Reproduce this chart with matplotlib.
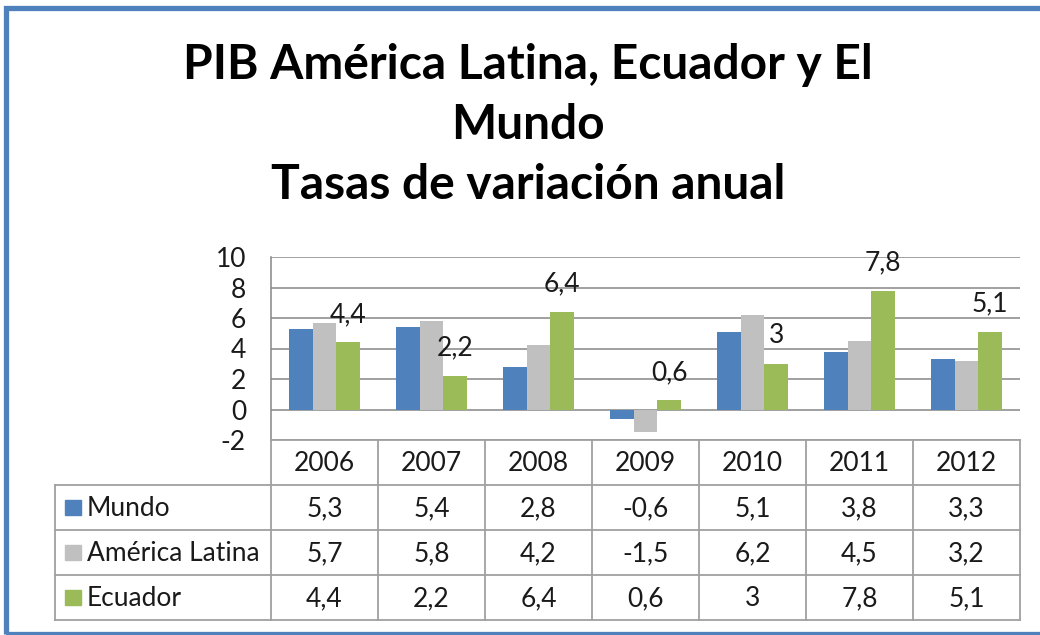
import matplotlib.pyplot as plt
import matplotlib.patches as mpatches
import numpy as np

plt.rcParams['font.family'] = ['Lato', 'DejaVu Sans']

years = ['2006', '2007', '2008', '2009', '2010', '2011', '2012']
series_names = ['Mundo', 'América Latina', 'Ecuador']
mundo = [5.3, 5.4, 2.8, -0.6, 5.1, 3.8, 3.3]
america_latina = [5.7, 5.8, 4.2, -1.5, 6.2, 4.5, 3.2]
ecuador = [4.4, 2.2, 6.4, 0.6, 3.0, 7.8, 5.1]
y_ticks = [-2, 0, 2, 4, 6, 8, 10]
title_lines = ['PIB América Latina, Ecuador y El', 'Mundo', 'Tasas de variación anual']

colors = ['#4F81BD', '#C0C0C0', '#9BBB59']
grid_col = '#868686'
table_col = '#A0A0A0'
txt_col = '#1a1a1a'
fs = 19

W, H = 1040, 635
fig = plt.figure(figsize=(W / 100, H / 100), dpi=100)


def fx(px):
    return px / W


def fy(py):
    return 1 - py / H


# main plot area
ax = fig.add_axes([fx(271), fy(440), fx(1020) - fx(271), fy(257) - fy(440)])
x = np.arange(len(years))
bw = 1 / 4.5
data = [mundo, america_latina, ecuador]
for i, vals in enumerate(data):
    ax.bar(x + (i - 1) * bw, vals, width=bw, color=colors[i], zorder=3)

# data labels for Ecuador only
for xi, v in zip(x, ecuador):
    lab = ('%g' % v).replace('.', ',')
    ax.annotate(lab, (xi + bw, v), xytext=(0, 11), textcoords='offset points',
                ha='center', va='bottom', fontsize=fs, color=txt_col)

ax.set_xlim(-0.5, len(years) - 0.5)
ax.set_ylim(-2, 10)
ax.set_yticks(y_ticks)
ax.set_yticklabels([str(t) for t in y_ticks], fontsize=fs, color=txt_col)
ax.tick_params(axis='y', length=0, pad=18)
ax.set_xticks([])
for t in y_ticks:
    ax.axhline(t, color=grid_col, lw=1.1, zorder=1)
for s in ['top', 'right', 'bottom']:
    ax.spines[s].set_visible(False)
ax.spines['left'].set_color(grid_col)
ax.spines['left'].set_linewidth(1.1)
ax.patch.set_alpha(0)

# data table
tax = fig.add_axes([fx(55), fy(620), fx(1020) - fx(55), fy(440) - fy(620)])
left_w = (271 - 55) / 107.0
tax.set_xlim(-0.5 - left_w, len(years) - 0.5)
tax.set_ylim(4, 0)
tax.axis('off')
lw = 1.3
x0 = -0.5 - left_w
x1 = len(years) - 0.5
# horizontal lines
tax.plot([-0.5, x1], [0, 0], color=table_col, lw=lw, clip_on=False)
for r in [1, 2, 3, 4]:
    tax.plot([x0, x1], [r, r], color=table_col, lw=lw, clip_on=False)
# vertical lines
for c in range(len(years) + 1):
    tax.plot([c - 0.5, c - 0.5], [0, 4], color=table_col, lw=lw, clip_on=False)
tax.plot([x0, x0], [1, 4], color=table_col, lw=lw, clip_on=False)

for j, yr in enumerate(years):
    tax.text(j, 0.52, yr, ha='center', va='center', fontsize=fs, color=txt_col)
for i, (name, vals) in enumerate(zip(series_names, data)):
    r = i + 1.5
    tax.add_patch(mpatches.Rectangle((x0 + 0.095, r - 0.17), 0.15, 0.34,
                                     color=colors[i], clip_on=False))
    tax.text(x0 + 0.3, r + 0.02, name, ha='left', va='center', fontsize=fs, color=txt_col)
    for j, v in enumerate(vals):
        lab = ('%g' % v).replace('.', ',')
        tax.text(j, r + 0.02, lab, ha='center', va='center', fontsize=fs, color=txt_col)

# title
for k, line in enumerate(title_lines):
    fig.text(fx(528), fy(65 + 60 * k), line, ha='center', va='center',
             fontsize=34.5, fontweight='bold', color='black')

# outer border
fig.patches.append(mpatches.Rectangle((fx(5.5), fy(634)), fx(1060) - fx(5.5), fy(7.5) - fy(634),
                                      transform=fig.transFigure, fill=False,
                                      edgecolor='#4F81BD', lw=3.8))

fig.savefig('out.png', dpi=100)
